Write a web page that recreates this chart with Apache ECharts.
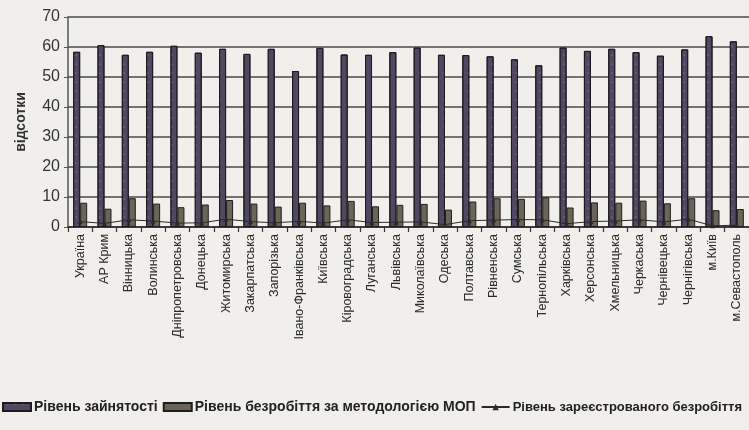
<!DOCTYPE html>
<html>
<head>
<meta charset="utf-8">
<script src="https://cdn.jsdelivr.net/npm/echarts@6/dist/echarts.min.js"></script>
<style>
html,body{margin:0;padding:0;background:#f0efeb;}
#chart{width:749px;height:430px;}
</style>
</head>
<body>
<div id="chart"></div>
<script>
const categories = ['Україна','АР Крим','Вінницька','Волинська','Дніпропетровська','Донецька','Житомирська','Закарпатська','Запорізька','Івано-Франківська','Київська','Кіровоградська','Луганська','Львівська','Миколаївська','Одеська','Полтавська','Рівненська','Сумська','Тернопільська','Харківська','Херсонська','Хмельницька','Черкаська','Чернівецька','Чернігівська','м.Київ','м.Севастополь'];
const employment = [58.4,60.6,57.4,58.4,60.4,58.1,59.4,57.7,59.4,52.0,59.7,57.5,57.4,58.3,59.8,57.4,57.3,56.9,55.9,53.9,59.8,58.7,59.4,58.3,57.1,59.2,63.6,61.9];
const iloUnemployment = [8.1,6.1,9.6,7.8,6.6,7.5,9.0,7.8,6.8,8.1,7.2,8.7,6.9,7.4,7.7,5.8,8.5,9.6,9.4,9.9,6.5,8.2,8.1,8.8,7.9,9.6,5.6,6.0];
const registeredUnemployment = [1.8,1.2,2.4,2.0,1.3,1.4,2.6,1.8,1.4,1.9,1.3,2.4,1.5,1.6,1.7,0.8,2.1,2.3,2.5,2.4,1.1,1.8,2.0,2.4,1.7,2.6,0.4,0.6];
const seriesNames = ['Рівень зайнятості','Рівень безробіття за методологією МОП','Рівень зареєстрованого безробіття'];
const yAxisName = 'відсотки';

const chart = echarts.init(document.getElementById('chart'));
chart.setOption({
  backgroundColor: '#f0efeb',
  animation: false,
  textStyle: {fontFamily: 'Arial, "Liberation Sans", sans-serif'},
  grid: {left: 68, top: 17, width: 683, height: 210, containLabel: false},
  legend: {
    left: 2, top: 400, width: 900, padding: 0, itemGap: 5, itemWidth: 28, itemHeight: 8,
    textStyle: {fontSize: 14, fontWeight: 'bold', color: '#222', padding: [0,0,0,-2]},
    data: [
      {name: seriesNames[0], icon: 'rect'},
      {name: seriesNames[1], icon: 'rect'},
      {name: seriesNames[2], textStyle: {fontSize: 13, fontWeight: 'bold', color: '#222'}}
    ]
  },
  xAxis: {
    type: 'category', data: categories,
    axisLine: {show: true, lineStyle: {color: '#2a2a2a', width: 1.6}},
    axisTick: {show: true, length: 5, lineStyle: {color: '#333', width: 1.2}},
    axisLabel: {rotate: 90, interval: 0, fontSize: 12.5, color: '#2a2a2a', margin: 7}
  },
  yAxis: {
    type: 'value', min: 0, max: 70, interval: 10,
    name: yAxisName, nameLocation: 'middle', nameGap: 40,
    nameTextStyle: {fontSize: 14, fontWeight: 'bold', color: '#333'},
    axisLine: {show: true, lineStyle: {color: '#555', width: 1.5}},
    axisTick: {show: true, length: 4, lineStyle: {color: '#555'}},
    axisLabel: {fontSize: 16, color: '#333', margin: 8},
    splitLine: {show: true, lineStyle: {color: '#4a4a4a', width: 1.6}}
  },
  series: [
    {
      name: seriesNames[0], type: 'bar', data: employment,
      barWidth: 7, barGap: '0%',
      itemStyle: {
        color: '#514760', borderColor: '#1e1a22', borderWidth: 1,
        decal: {symbol: 'circle', symbolSize: 0.5, color: 'rgba(255,255,255,0.55)', dashArrayX: [[0,3,2,3]], dashArrayY: [2,7], rotation: 0}
      }
    },
    {
      name: seriesNames[1], type: 'bar', data: iloUnemployment,
      barWidth: 7, barGap: '0%',
      itemStyle: {color: '#6b6557', borderColor: '#1e1e1e', borderWidth: 1}
    },
    {
      name: seriesNames[2], type: 'line', data: registeredUnemployment,
      symbol: 'triangle', symbolSize: 5,
      lineStyle: {color: '#2a2a2a', width: 1},
      itemStyle: {color: '#2a2a2a'}
    }
  ]
});
</script>
</body>
</html>
